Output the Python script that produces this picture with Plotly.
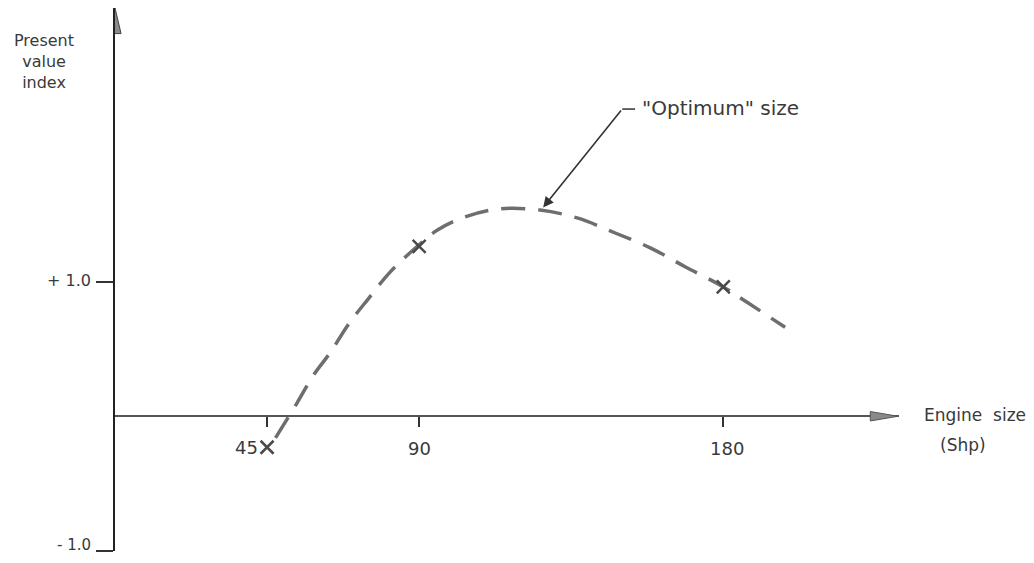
import plotly.graph_objects as go

# ---- data ----
curve_x = [47.5, 53.9, 58.6, 63.9, 69.0, 74.9, 81.4, 89.4, 95.3, 103.6, 114.0,
           125.8, 137.0, 148.0, 158.4, 168.7, 180.0, 187.4, 198.3]
curve_y = [-0.16, 0.10, 0.30, 0.48, 0.68, 0.87, 1.07, 1.26, 1.38, 1.48, 1.54,
           1.53, 1.47, 1.36, 1.25, 1.11, 0.96, 0.84, 0.66]

point_x = [45, 90, 180]
point_y = [-0.23, 1.26, 0.96]

x_tick_vals = [45, 90, 180]
x_tick_text = ["45", "90", "180"]
y_tick_vals = [-1.0, 1.0]
y_tick_text = ["- 1.0", "+ 1.0"]

optimum_x = 126.7
optimum_y = 1.55

X_MIN, X_MAX = 0, 232
Y_MIN, Y_MAX = -1.0, 3.03

FONT = "DejaVu Sans"
INK = "#3a3a3a"
GRAY = "#6e6e6e"

fig = go.Figure()

fig.add_trace(go.Scatter(
    x=curve_x, y=curve_y, mode="lines",
    line=dict(color=GRAY, width=3.5, dash="24px,13px", shape="spline"),
    hoverinfo="skip", showlegend=False))

fig.add_trace(go.Scatter(
    x=point_x, y=point_y, mode="markers",
    marker=dict(symbol="x-thin", size=13, line=dict(color="#4a4a4a", width=2.5)),
    showlegend=False))

# arrowheads of the axes
fig.add_shape(type="path", xref="x", yref="y",
              path=f"M {X_MIN-1.8},{Y_MAX-0.19} L {X_MIN},{Y_MAX} L {X_MIN+1.8},{Y_MAX-0.19} Z",
              fillcolor="#8a8a8a", line=dict(color="#444", width=1))
fig.add_shape(type="path", xref="x", yref="y",
              path=f"M {X_MAX-8.5},-0.035 L {X_MAX-0.3},0 L {X_MAX-8.5},0.035 Z",
              fillcolor="#8a8a8a", line=dict(color="#555", width=1))

# x tick labels
for v, t in zip(x_tick_vals, x_tick_text):
    if v == 45:
        fig.add_annotation(x=v, y=0, text=t, showarrow=False, xanchor="right",
                           yanchor="middle", xshift=-7, yshift=-31,
                           font=dict(family=FONT, size=18, color=INK))
    else:
        fig.add_annotation(x=v, y=0, text=t, showarrow=False, xanchor="center",
                           yanchor="middle", xshift=4 if v == 180 else 0, yshift=-32,
                           font=dict(family=FONT, size=18, color=INK))

# y tick labels
for v, t in zip(y_tick_vals, y_tick_text):
    fig.add_annotation(x=X_MIN, y=v, text=t, showarrow=False, xanchor="right",
                       yanchor="middle", xshift=-22, yshift=6 if v < 0 else 1,
                       font=dict(family=FONT, size=15 if v < 0 else 16, color=INK))

# axis titles
fig.add_annotation(xref="paper", yref="paper", x=-0.0906, y=0.9006,
                   xanchor="center", yanchor="middle",
                   text="Present<br>value<br>index", showarrow=False, align="center",
                   font=dict(family=FONT, size=16, color=INK))
fig.add_annotation(x=X_MAX, y=0, text="Engine\u00a0\u00a0size", showarrow=False,
                   xanchor="center", yanchor="middle", xshift=76, yshift=1,
                   font=dict(family=FONT, size=17, color=INK))
fig.add_annotation(x=X_MAX, y=0, text="(Shp)", showarrow=False,
                   xanchor="center", yanchor="middle", xshift=64, yshift=-29,
                   font=dict(family=FONT, size=17, color=INK))

# "Optimum" size call-out
fig.add_annotation(x=optimum_x, y=optimum_y, ax=150.1, ay=2.28, axref="x", ayref="y",
                   text="", showarrow=True, arrowhead=2, arrowsize=1.3, arrowwidth=1.6,
                   arrowcolor="#333")
fig.add_shape(type="line", xref="x", yref="y", x0=150.1, y0=2.28, x1=153.9, y1=2.28,
              line=dict(color="#333", width=1.5))
fig.add_annotation(x=155.5, y=2.29, text="\"Optimum\" size", showarrow=False,
                   xanchor="left", yanchor="middle",
                   font=dict(family=FONT, size=20, color=INK))

fig.update_layout(
    width=1018, height=547,
    margin=dict(l=107, r=127, t=0, b=4),
    paper_bgcolor="white", plot_bgcolor="white",
    showlegend=False,
    xaxis=dict(range=[X_MIN, X_MAX], showgrid=False, zeroline=False,
               anchor="free", position=(0 - Y_MIN) / (Y_MAX - Y_MIN),
               showline=True, linecolor="#555", linewidth=2,
               tickvals=x_tick_vals, ticks="outside", ticklen=10, tickwidth=1.5,
               tickcolor="#333", showticklabels=False),
    yaxis=dict(range=[Y_MIN, Y_MAX], showgrid=False, zeroline=False,
               showline=True, linecolor="#222", linewidth=2,
               tickvals=y_tick_vals, ticks="outside",
               ticklen=17, tickwidth=1.5, tickcolor="#333",
               showticklabels=False),
)

fig.write_html("out.html")
